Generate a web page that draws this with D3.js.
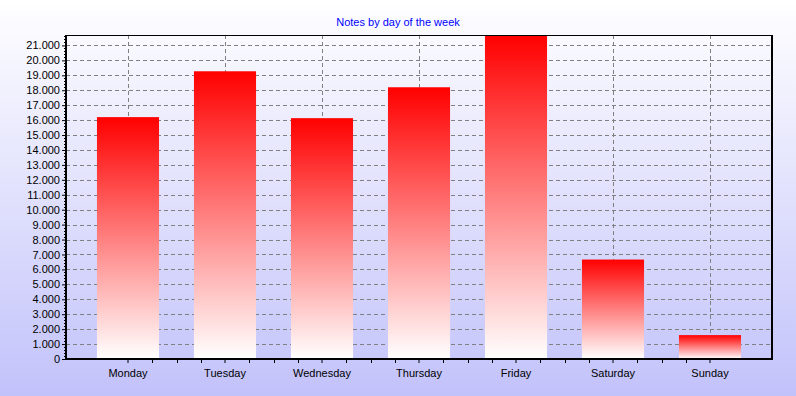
<!DOCTYPE html>
<html><head><meta charset="utf-8">
<script src="https://cdn.jsdelivr.net/npm/d3@7"></script>
<style>html,body{margin:0;padding:0;overflow:hidden;}svg{display:block;}</style>
</head><body>
<script>
const title = "Notes by day of the week";
const days = ["Monday","Tuesday","Wednesday","Thursday","Friday","Saturday","Sunday"];
const notes = [16200, 19270, 16130, 18200, 21700, 6660, 1600];
const yTicks = [0,1000,2000,3000,4000,5000,6000,7000,8000,9000,10000,11000,12000,13000,14000,15000,16000,17000,18000,19000,20000,21000];
const yMax = 21700;

const W = 796, H = 396;
const L = 66, R = 772, T = 35, B = 359;

const svg = d3.select("body").append("svg").attr("width", W).attr("height", H);
const defs = svg.append("defs");
const bg = defs.append("linearGradient").attr("id","bg").attr("x1",0).attr("y1",0).attr("x2",0).attr("y2",1);
bg.append("stop").attr("offset",0).attr("stop-color","#ffffff");
bg.append("stop").attr("offset",1).attr("stop-color","#c2c2fb");
const bar = defs.append("linearGradient").attr("id","bar").attr("x1",0).attr("y1",0).attr("x2",0).attr("y2",1);
bar.append("stop").attr("offset",0).attr("stop-color","#ff0000");
bar.append("stop").attr("offset",1).attr("stop-color","#ffffff");

svg.append("rect").attr("width",W).attr("height",H).attr("fill","url(#bg)");

const x = d3.scaleBand().domain(days).range([79.5, 758.5]).paddingInner(0.36).paddingOuter(0.18);
const y = d3.scaleLinear().domain([0, yMax]).range([B, T]);
const cx = d => x(d) + x.bandwidth()/2;

// grid
const grid = svg.append("g").attr("stroke","#808080").attr("stroke-width",1).attr("stroke-dasharray","4,3").attr("shape-rendering","crispEdges");
grid.selectAll("line.h").data(yTicks.filter(v=>v>0)).join("line")
  .attr("x1",L).attr("x2",R).attr("y1",d=>Math.round(y(d))+0.5).attr("y2",d=>Math.round(y(d))+0.5);
grid.selectAll("line.v").data(days).join("line").attr("class","v")
  .attr("x1",d=>Math.round(cx(d))+0.5).attr("x2",d=>Math.round(cx(d))+0.5).attr("y1",T).attr("y2",B);

// bars
svg.append("g").selectAll("rect").data(days).join("rect")
  .attr("x",d=>x(d)).attr("width",x.bandwidth())
  .attr("y",(d,i)=>y(notes[i])).attr("height",(d,i)=>B - y(notes[i]))
  .attr("fill","url(#bar)");

// frame
svg.append("line").attr("x1",L).attr("x2",R).attr("y1",T+0.5).attr("y2",T+0.5).attr("stroke","#000").attr("stroke-width",1);
svg.append("line").attr("x1",R).attr("x2",R).attr("y1",T).attr("y2",B+1).attr("stroke","#000").attr("stroke-width",2);

// y axis
const yAxis = d3.axisLeft(y).tickValues(yTicks).tickSize(4).tickPadding(2)
  .tickFormat(d => d3.format(",")(d).replace(/,/g,"."));
const ya = svg.append("g").attr("transform",`translate(${L},0)`).call(yAxis);
ya.select(".domain").remove();
ya.selectAll("text").attr("font-family","'Liberation Sans', Arial, sans-serif").attr("font-size",11).attr("fill","#000");
const minorY = d3.range(0, yMax, 200).filter(v => v % 1000 !== 0);
svg.append("g").selectAll("line").data(minorY).join("line")
  .attr("x1",L-2).attr("x2",L).attr("y1",d=>Math.round(y(d))+0.5).attr("y2",d=>Math.round(y(d))+0.5)
  .attr("stroke","#000").attr("stroke-width",1);

// x axis
const xAxis = d3.axisBottom(x).tickSize(4).tickPadding(6);
const xa = svg.append("g").attr("transform",`translate(0,${B})`).call(xAxis);
xa.select(".domain").remove();
xa.selectAll("text").attr("font-family","'Liberation Sans', Arial, sans-serif").attr("font-size",11).attr("fill","#000");
const minorX = [];
days.slice(0,-1).forEach((d,i)=>{ const a=cx(d), b=cx(days[i+1]); [1,2,3].forEach(k=>minorX.push(a+(b-a)*k/4)); });
svg.append("g").selectAll("line").data(minorX).join("line")
  .attr("x1",d=>Math.round(d)+0.5).attr("x2",d=>Math.round(d)+0.5).attr("y1",B).attr("y2",B+4)
  .attr("stroke","#000").attr("stroke-width",1);

// axis lines
svg.append("line").attr("x1",L).attr("x2",L).attr("y1",T).attr("y2",B+1).attr("stroke","#000").attr("stroke-width",2);
svg.append("line").attr("x1",L-1).attr("x2",R+1).attr("y1",B).attr("y2",B).attr("stroke","#000").attr("stroke-width",2);

// title
svg.append("text").attr("x",W/2).attr("y",26).attr("text-anchor","middle")
  .attr("font-family","'Liberation Sans', Arial, sans-serif").attr("font-size",11).attr("fill","#0000ff").text(title);
</script>
</body></html>
